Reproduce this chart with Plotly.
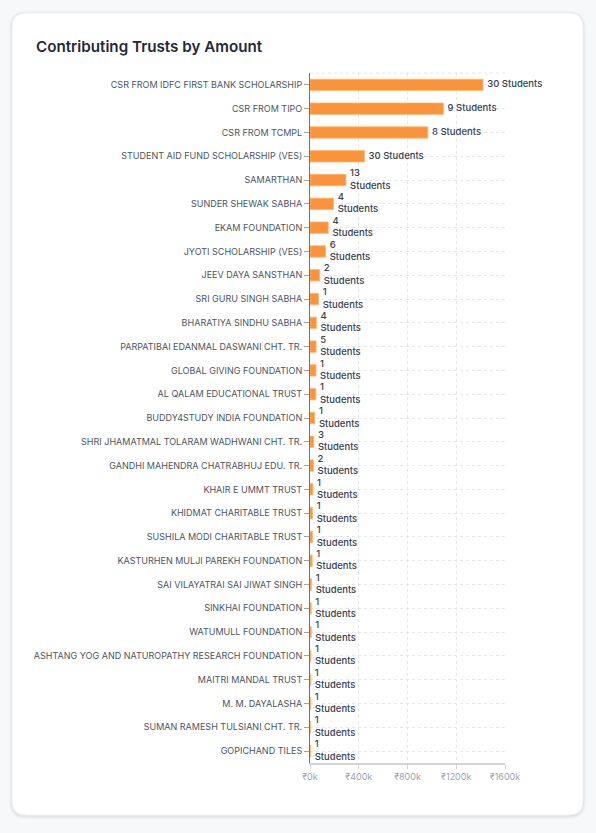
import plotly.graph_objects as go

# Trusts, sorted by contributed amount (rupees) as in the dashboard
trusts = [
    "CSR FROM IDFC FIRST BANK SCHOLARSHIP",
    "CSR FROM TIPO",
    "CSR FROM TCMPL",
    "STUDENT AID FUND SCHOLARSHIP (VES)",
    "SAMARTHAN",
    "SUNDER SHEWAK SABHA",
    "EKAM FOUNDATION",
    "JYOTI SCHOLARSHIP (VES)",
    "JEEV DAYA SANSTHAN",
    "SRI GURU SINGH SABHA",
    "BHARATIYA SINDHU SABHA",
    "PARPATIBAI EDANMAL DASWANI CHT. TR.",
    "GLOBAL GIVING FOUNDATION",
    "AL QALAM EDUCATIONAL TRUST",
    "BUDDY4STUDY INDIA FOUNDATION",
    "SHRI JHAMATMAL TOLARAM WADHWANI CHT. TR.",
    "GANDHI MAHENDRA CHATRABHUJ EDU. TR.",
    "KHAIR E UMMT TRUST",
    "KHIDMAT CHARITABLE TRUST",
    "SUSHILA MODI CHARITABLE TRUST",
    "KASTURHEN MULJI PAREKH FOUNDATION",
    "SAI VILAYATRAI SAI JIWAT SINGH",
    "SINKHAI FOUNDATION",
    "WATUMULL FOUNDATION",
    "ASHTANG YOG AND NATUROPATHY RESEARCH FOUNDATION",
    "MAITRI MANDAL TRUST",
    "M. M. DAYALASHA",
    "SUMAN RAMESH TULSIANI CHT. TR.",
    "GOPICHAND TILES",
]
amounts = [
    1420000, 1095000, 967000, 447000, 295000, 193000, 150000, 128000,
    79000, 70000, 52000, 50000, 49000, 48000, 39000, 31000, 28000,
    24000, 21000, 21000, 18000, 13000, 10000, 10000, 7000, 6000,
    6000, 5000, 5000,
]
students = [30, 9, 8, 30, 13, 4, 4, 6, 2, 1, 4, 5, 1, 1, 1, 3, 2,
            1, 1, 1, 1, 1, 1, 1, 1, 1, 1, 1, 1]

x_ticks = [0, 400000, 800000, 1200000, 1600000]
x_tick_text = ["₹0k", "₹400k", "₹800k", "₹1200k", "₹1600k"]

# long bars get a one-line label, short ones wrap
labels = [
    f"{n} Students" if a >= 400000 else f"{n}<br>Students"
    for n, a in zip(students, amounts)
]

W, H = 596, 833
L, R, T, B = 310, 91, 73, 70
pw, ph = W - L - R, H - T - B


def px(x):
    return (x - L) / pw


def py(y):
    return (H - B - y) / ph


def rounded(x0, y0, x1, y1, r):
    rx, ry = r / pw, r / ph
    a, b, c, d = px(x0), px(x1), py(y0), py(y1)
    return (
        f"M {a + rx},{c} L {b - rx},{c} Q {b},{c} {b},{c - ry} "
        f"L {b},{d + ry} Q {b},{d} {b - rx},{d} L {a + rx},{d} "
        f"Q {a},{d} {a},{d + ry} L {a},{c - ry} Q {a},{c} {a + rx},{c} Z"
    )


shapes = []
# soft card shadow
for i, op in enumerate([0.025, 0.025, 0.03]):
    g = 3 - i
    shapes.append(dict(
        type="path", xref="paper", yref="paper", layer="below",
        path=rounded(12 - g, 13 - g + 1, 583 + g, 815 + g + 1, 14 + g),
        fillcolor=f"rgba(0,0,0,{op})", line=dict(width=0),
    ))
shapes.append(dict(
    type="path", xref="paper", yref="paper", layer="below",
    path=rounded(12, 13, 583, 815, 14),
    fillcolor="white", line=dict(color="#eef0f3", width=1),
))
# dashed top grid line
shapes.append(dict(
    type="line", xref="paper", yref="paper", x0=0, x1=1, y0=1, y1=1,
    line=dict(color="#e5e7eb", width=1, dash="3px,3px"), layer="below",
))

fig = go.Figure()
fig.add_trace(go.Bar(
    x=amounts, y=trusts, orientation="h",
    marker=dict(color="#fb923c", line=dict(color="#fdba74", width=0.8)),
    hoverinfo="skip",
))
fig.add_trace(go.Scatter(
    x=amounts, y=trusts, mode="markers+text", text=labels,
    textposition="middle right",
    marker=dict(size=5, color="rgba(0,0,0,0)"),
    textfont=dict(family="Inter", size=9.5, color="#374151", weight=500),
    cliponaxis=False, hoverinfo="skip",
))

fig.update_layout(
    width=W, height=H,
    margin=dict(l=L, r=R, t=T, b=B),
    paper_bgcolor="#f7f8fa",
    plot_bgcolor="white",
    showlegend=False,
    bargap=0.52,
    shapes=shapes,
    font=dict(family="Inter"),
    title=dict(
        text="Contributing Trusts by Amount",
        x=36 / W, xref="container", xanchor="left",
        y=1 - 47 / H, yref="container", yanchor="middle",
        font=dict(family="Inter", size=15.2, color="#1f2937", weight=600),
    ),
    xaxis=dict(
        range=[0, 1600000], tickvals=x_ticks, ticktext=x_tick_text,
        showgrid=True, gridcolor="#e5e7eb", griddash="3px,3px",
        zeroline=False, showline=True, linecolor="#d1d5db", linewidth=1.5,
        ticks="outside", ticklen=4, tickcolor="#d1d5db",
        tickfont=dict(family="Inter", size=9, color="#9ca3af"),
        fixedrange=True,
    ),
    yaxis=dict(
        range=[len(trusts) - 0.5, -0.5], showgrid=True, gridcolor="#e5e7eb",
        griddash="3px,3px", showline=True, linecolor="#6b7280", linewidth=1,
        ticks="outside", ticklen=5, tickcolor="#9ca3af",
        tickfont=dict(family="Inter", size=9, color="#4b5563"),
        fixedrange=True,
    ),
)

# drop the browser's default 8px body margin so the figure sits at 0,0
fig.write_html(
    "out.html",
    config={"displayModeBar": False},
    post_script="document.body.style.margin='0';",
)
